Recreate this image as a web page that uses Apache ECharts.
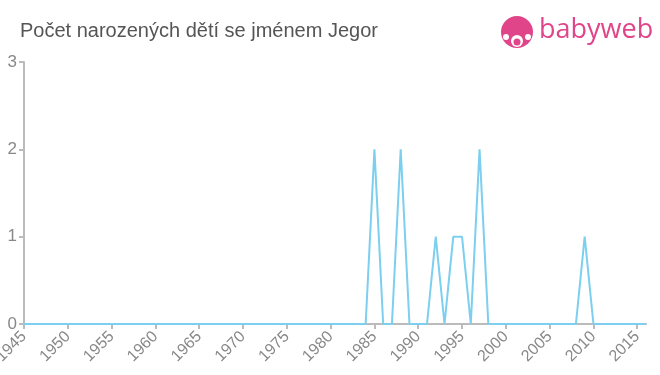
<!DOCTYPE html>
<html><head><meta charset="utf-8">
<script src="https://cdn.jsdelivr.net/npm/echarts@6/dist/echarts.min.js"></script>
<style>html,body{margin:0;padding:0;background:#fff}#c{width:660px;height:375px}</style>
</head><body><div id="c"></div>
<script>
const years = [1945,1946,1947,1948,1949,1950,1951,1952,1953,1954,1955,1956,1957,1958,1959,1960,1961,1962,1963,1964,1965,1966,1967,1968,1969,1970,1971,1972,1973,1974,1975,1976,1977,1978,1979,1980,1981,1982,1983,1984,1985,1986,1987,1988,1989,1990,1991,1992,1993,1994,1995,1996,1997,1998,1999,2000,2001,2002,2003,2004,2005,2006,2007,2008,2009,2010,2011,2012,2013,2014,2015,2016];
const counts = [0,0,0,0,0,0,0,0,0,0,0,0,0,0,0,0,0,0,0,0,0,0,0,0,0,0,0,0,0,0,0,0,0,0,0,0,0,0,0,0,2,0,0,2,0,0,0,1,0,1,1,0,2,0,0,0,0,0,0,0,0,0,0,0,1,0,0,0,0,0,0,0];
const yTicks = [0,1,2,3];
const title = 'Počet narozených dětí se jménem Jegor';

const chart = echarts.init(document.getElementById('c'), null, {renderer:'canvas'});
chart.setOption({
  animation:false,
  title:{text:title,left:15,top:16,textStyle:{fontFamily:'Liberation Sans, Arial, sans-serif',fontSize:20,fontWeight:'normal',color:'#555'}},
  grid:{left:24,right:14,top:62,bottom:51,containLabel:false,outerBoundsMode:'none'},
  xAxis:{type:'category',data:years.map(String),boundaryGap:false,
    axisLine:{lineStyle:{color:'#bbb',width:2}},
    axisTick:{show:true,length:5,lineStyle:{color:'#bbb',width:2},interval:(i,v)=>(+v)%5===0},
    axisLabel:{rotate:45,interval:(i,v)=>(+v)%5===0,color:'#888',fontSize:16,fontFamily:'Liberation Sans, Arial, sans-serif',margin:10},
    splitLine:{show:false}},
  yAxis:{type:'value',min:yTicks[0],max:yTicks[yTicks.length-1],interval:1,
    axisLine:{show:true,lineStyle:{color:'#bbb',width:2}},
    axisTick:{show:true,length:5,lineStyle:{color:'#bbb',width:2}},
    axisLabel:{color:'#888',fontSize:17,fontFamily:'Liberation Sans, Arial, sans-serif',margin:7},
    splitLine:{show:false}},
  series:[{type:'line',data:counts,symbol:'none',lineStyle:{color:'#7ccfee',width:2},itemStyle:{color:'#7ccfee'}}],
  graphic:[
    {type:'circle',shape:{cx:517,cy:32,r:16},style:{fill:'#e0458a'}},
    {type:'circle',shape:{cx:517,cy:41,r:6},style:{fill:'#fff'}},
    {type:'circle',shape:{cx:517,cy:42,r:3.5},style:{fill:'#e0458a'}},
    {type:'circle',shape:{cx:506,cy:37,r:3},style:{fill:'#fff'}},
    {type:'circle',shape:{cx:528,cy:37,r:3},style:{fill:'#fff'}},
    {type:'text',left:539,top:17,style:{text:'babyweb',fill:'#e0458a',font:'27px "Open Sans", Arial, sans-serif'}}
  ]
});
</script></body></html>
